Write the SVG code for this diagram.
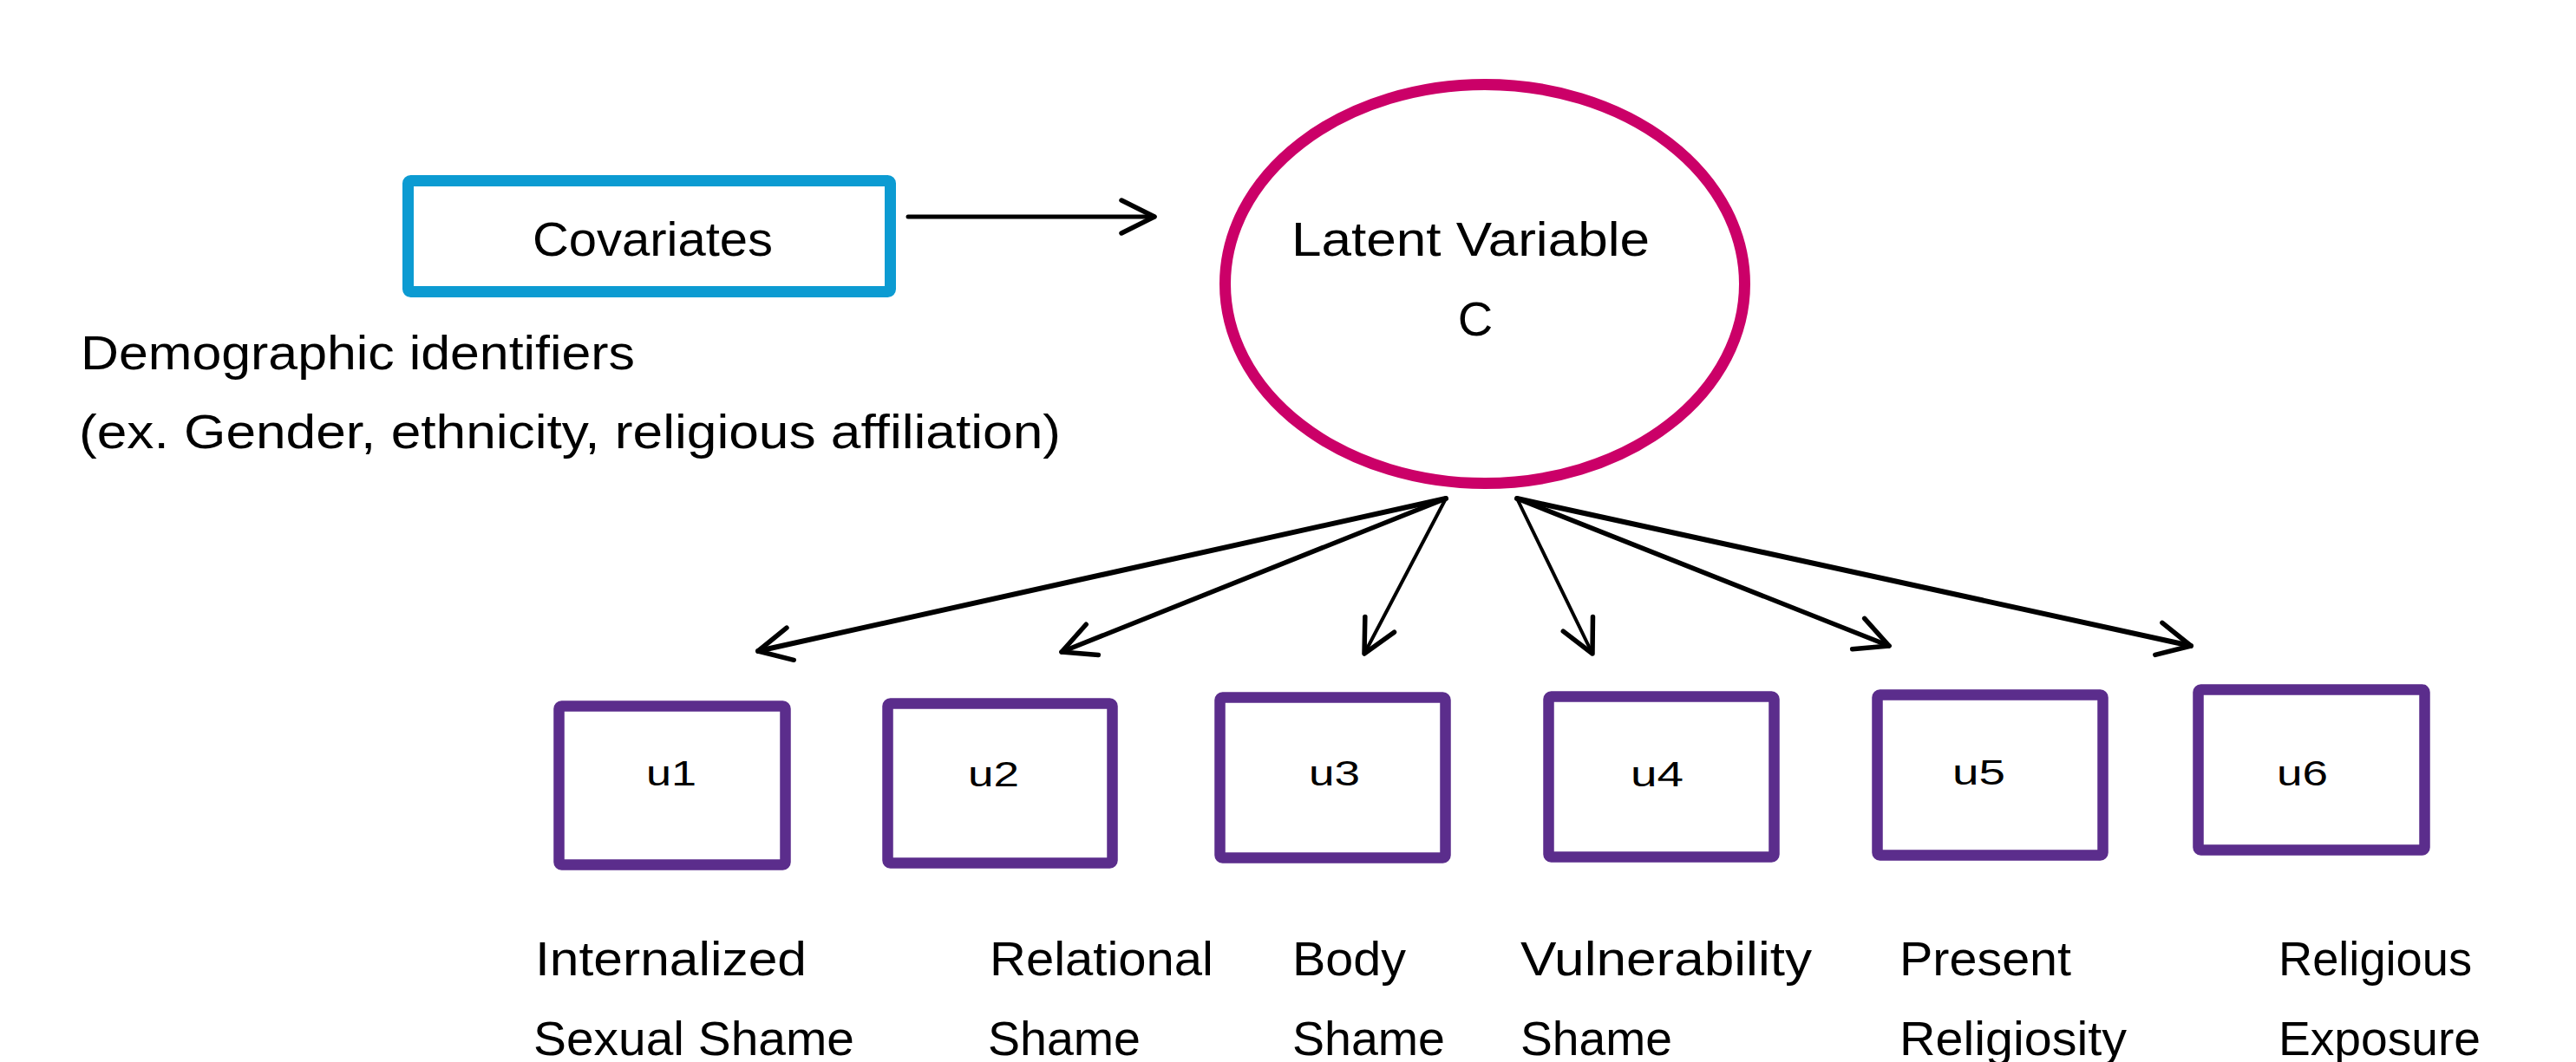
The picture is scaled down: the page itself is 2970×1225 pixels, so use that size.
<svg xmlns="http://www.w3.org/2000/svg" width="2970" height="1225" viewBox="0 0 2970 1225">
<style>
  text { font-family: "Liberation Sans", Arial, sans-serif; fill: #000; }
  .lbl { font-size: 56px; }
  .u { font-size: 40px; }
  .ind { fill: #fff; stroke: #5B2D8C; stroke-width: 12.5; }
  .cov { fill: #fff; stroke: #0C9BD2; stroke-width: 13; }
  .lat { fill: #fff; stroke: #CB0068; stroke-width: 13; }
  .conn { stroke: #000; fill: none; stroke-linecap: round; }
</style>
<defs>
  <marker id="arr" markerUnits="userSpaceOnUse" orient="auto" refX="0" refY="0" markerWidth="60" markerHeight="60" overflow="visible">
    <path d="M-38,-19 L0,0 L-38,19" fill="none" stroke="#000" stroke-width="5.5" stroke-linecap="round" stroke-linejoin="round"/>
  </marker>
</defs>
<rect width="2970" height="1225" fill="#fff"/>

<g id="covariates">
  <rect class="cov" x="470.5" y="208.5" width="556" height="128" rx="3"/>
  <text class="lbl" x="614" y="295" textLength="277" lengthAdjust="spacingAndGlyphs">Covariates</text>
</g>

<g id="covariates-note">
  <text class="lbl" x="93" y="426" textLength="639" lengthAdjust="spacingAndGlyphs">Demographic identifiers</text>
  <text class="lbl" x="91" y="517" textLength="1132" lengthAdjust="spacingAndGlyphs">(ex. Gender, ethnicity, religious affiliation)</text>
</g>

<g id="latent">
  <ellipse class="lat" cx="1712" cy="327.5" rx="299.5" ry="230"/>
  <text class="lbl" x="1489" y="295" textLength="413" lengthAdjust="spacingAndGlyphs">Latent Variable</text>
  <text class="lbl" x="1701" y="387" text-anchor="middle">C</text>
</g>

<g id="connectors">
  <line class="conn" x1="1047" y1="250" x2="1331" y2="250" stroke-width="5" marker-end="url(#arr)"/>
  <line class="conn" x1="1667" y1="575" x2="874" y2="751" stroke-width="6" marker-end="url(#arr)"/>
  <line class="conn" x1="1667" y1="575" x2="1224" y2="752" stroke-width="5.5" marker-end="url(#arr)"/>
  <line class="conn" x1="1667" y1="575" x2="1573" y2="754" stroke-width="4" marker-end="url(#arr)"/>
  <line class="conn" x1="1749" y1="575" x2="1836" y2="754" stroke-width="4" marker-end="url(#arr)"/>
  <line class="conn" x1="1749" y1="575" x2="2178" y2="745" stroke-width="5.5" marker-end="url(#arr)"/>
  <line class="conn" x1="1749" y1="575" x2="2526" y2="745" stroke-width="6" marker-end="url(#arr)"/>
</g>

<g id="u1">
  <rect class="ind" x="644.5" y="814.5" width="261" height="183" rx="3"/>
  <text class="u" x="745" y="906" textLength="58" lengthAdjust="spacingAndGlyphs">u1</text>
  <text class="lbl" x="617" y="1125" textLength="313" lengthAdjust="spacingAndGlyphs">Internalized</text>
  <text class="lbl" x="615" y="1217" textLength="370" lengthAdjust="spacingAndGlyphs">Sexual Shame</text>
</g>

<g id="u2">
  <rect class="ind" x="1023.5" y="811.5" width="259" height="184" rx="3"/>
  <text class="u" x="1116" y="907" textLength="59" lengthAdjust="spacingAndGlyphs">u2</text>
  <text class="lbl" x="1141" y="1125" textLength="258" lengthAdjust="spacingAndGlyphs">Relational</text>
  <text class="lbl" x="1139" y="1217" textLength="176" lengthAdjust="spacingAndGlyphs">Shame</text>
</g>

<g id="u3">
  <rect class="ind" x="1406.5" y="804.5" width="260" height="185" rx="3"/>
  <text class="u" x="1509" y="906" textLength="59" lengthAdjust="spacingAndGlyphs">u3</text>
  <text class="lbl" x="1490" y="1125" textLength="131" lengthAdjust="spacingAndGlyphs">Body</text>
  <text class="lbl" x="1490" y="1217" textLength="176" lengthAdjust="spacingAndGlyphs">Shame</text>
</g>

<g id="u4">
  <rect class="ind" x="1785.5" y="803.5" width="260" height="185" rx="3"/>
  <text class="u" x="1880" y="907" textLength="61" lengthAdjust="spacingAndGlyphs">u4</text>
  <text class="lbl" x="1753" y="1125" textLength="336" lengthAdjust="spacingAndGlyphs">Vulnerability</text>
  <text class="lbl" x="1753" y="1217" textLength="175" lengthAdjust="spacingAndGlyphs">Shame</text>
</g>

<g id="u5">
  <rect class="ind" x="2164.5" y="801.5" width="260" height="185" rx="3"/>
  <text class="u" x="2251" y="905" textLength="61" lengthAdjust="spacingAndGlyphs">u5</text>
  <text class="lbl" x="2190" y="1125" textLength="198" lengthAdjust="spacingAndGlyphs">Present</text>
  <text class="lbl" x="2190" y="1217" textLength="262" lengthAdjust="spacingAndGlyphs">Religiosity</text>
</g>

<g id="u6">
  <rect class="ind" x="2534.5" y="795.5" width="261" height="185" rx="3"/>
  <text class="u" x="2625" y="906" textLength="59" lengthAdjust="spacingAndGlyphs">u6</text>
  <text class="lbl" x="2627" y="1125" textLength="223" lengthAdjust="spacingAndGlyphs">Religious</text>
  <text class="lbl" x="2627" y="1217" textLength="233" lengthAdjust="spacingAndGlyphs">Exposure</text>
</g>
</svg>
